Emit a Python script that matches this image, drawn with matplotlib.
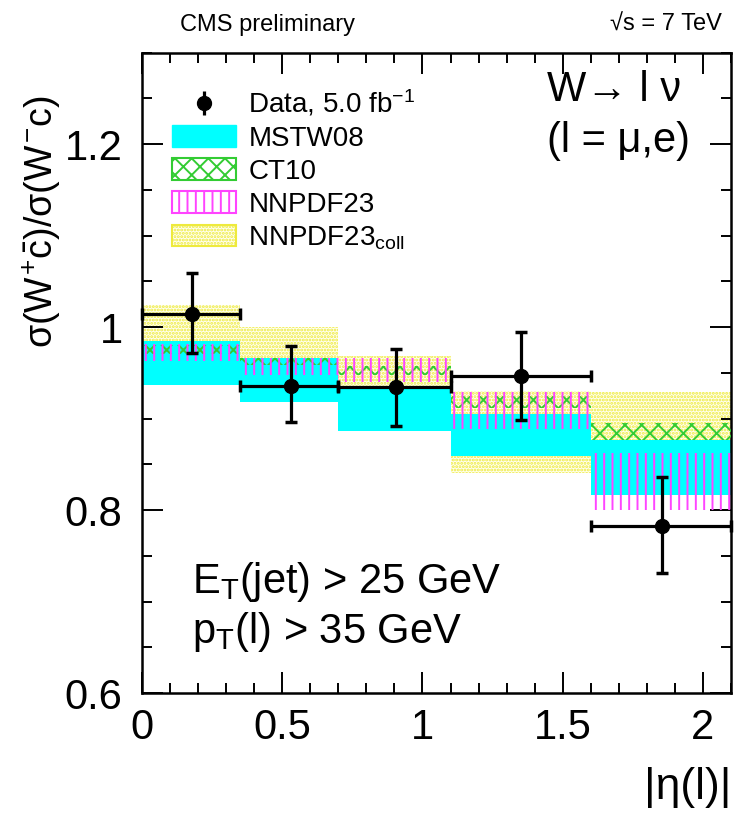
import numpy as np
import matplotlib
matplotlib.use("Agg")
import matplotlib.pyplot as plt
from matplotlib.patches import Patch
from matplotlib.lines import Line2D

plt.rcParams['font.family'] = ['Liberation Sans', 'DejaVu Sans']
plt.rcParams['mathtext.fontset'] = 'custom'
plt.rcParams['mathtext.rm'] = 'Liberation Sans'
plt.rcParams['mathtext.it'] = 'Liberation Sans'
plt.rcParams['mathtext.bf'] = 'Liberation Sans:bold'
plt.rcParams['hatch.linewidth'] = 1.4

# ---------------- data ----------------
bin_edges = [0.0, 0.35, 0.7, 1.1, 1.6, 2.1]
data_x = [0.18, 0.53, 0.905, 1.35, 1.855]
data_y = [1.014, 0.936, 0.934, 0.946, 0.782]
data_err_up = [0.045, 0.043, 0.042, 0.048, 0.054]
data_err_dn = [0.042, 0.040, 0.042, 0.048, 0.051]

mstw_lo = [0.937, 0.918, 0.886, 0.859, 0.816]
mstw_hi = [0.985, 0.966, 0.932, 0.905, 0.877]
ct10_lo = [0.970, 0.958, 0.948, 0.912, 0.877]
ct10_hi = [0.980, 0.966, 0.957, 0.925, 0.895]
nnpdf_lo = [0.963, 0.948, 0.940, 0.889, 0.800]
nnpdf_hi = [0.981, 0.966, 0.966, 0.929, 0.862]
coll_lo = [0.950, 0.930, 0.905, 0.840, 0.840]
coll_hi = [1.024, 1.000, 0.968, 0.930, 0.929]

YEL_FACE = '#fffff0'
YEL_EDGE = '#eeea3c'
CYAN = '#00ffff'
GREEN = '#33cc33'
MAGENTA = '#ff44ff'

# ---------------- figure ----------------
fig = plt.figure(figsize=(7.41, 8.15), dpi=100)
ax = fig.add_axes([142/741, 1-693/815, (731-142)/741, (693-52.5)/815])

def band(lo, hi, **kw):
    for i in range(len(lo)):
        ax.fill_between([bin_edges[i], bin_edges[i+1]], [lo[i]]*2, [hi[i]]*2, **kw)

band(coll_lo, coll_hi, facecolor=YEL_FACE, edgecolor=YEL_EDGE, hatch='.....', linewidth=0, zorder=1)
band(mstw_lo, mstw_hi, facecolor=CYAN, edgecolor='none', linewidth=0, zorder=2)
band(ct10_lo, ct10_hi, facecolor='none', edgecolor=GREEN, hatch='xx', linewidth=0, zorder=3)
band(nnpdf_lo, nnpdf_hi, facecolor='none', edgecolor=MAGENTA, hatch='||', linewidth=0, zorder=4)

xerr_lo = [data_x[i] - bin_edges[i] for i in range(5)]
xerr_hi = [bin_edges[i+1] - data_x[i] for i in range(5)]
ax.errorbar(data_x, data_y, xerr=[xerr_lo, xerr_hi], yerr=[data_err_dn, data_err_up],
            fmt='o', color='black', markersize=10, elinewidth=2.3, capsize=4,
            capthick=2.5, zorder=10, clip_on=False)

ax.set_xlim(0, 2.1)
ax.set_ylim(0.6, 1.3)
ax.set_xticks([0, 0.5, 1, 1.5, 2])
ax.set_xticklabels(['0', '0.5', '1', '1.5', '2'])
ax.set_xticks(np.arange(0, 2.11, 0.1), minor=True)
ax.set_yticks([0.6, 0.8, 1.0, 1.2])
ax.set_yticklabels(['0.6', '0.8', '1', '1.2'])
ax.set_yticks(np.arange(0.6, 1.301, 0.05), minor=True)
ax.tick_params(which='both', direction='in', top=True, right=True, width=1.4)
ax.tick_params(which='major', length=15, labelsize=30)
ax.tick_params(which='minor', length=7.5)
ax.tick_params(axis='x', pad=11)
ax.tick_params(axis='y', pad=14)
for s in ax.spines.values():
    s.set_linewidth(1.8)

# axis titles
fig.text(42/741, 1-95/815, r'$\sigma(W^{+}\bar{c})/\sigma(W^{-}c)$', rotation=90,
         ha='center', va='top', fontsize=27)
fig.text(731/741, 1-787/815, '|η(l)|', ha='right', va='center', fontsize=32)

# header
fig.text(180/741, 1-25/815, 'CMS preliminary', ha='left', va='center', fontsize=17)
fig.text(722/741, 1-25/815, '√s = 7 TeV', ha='right', va='center', fontsize=17)

# inside text
ax.text(547/741, 1-90/815, 'W→ l ν', transform=fig.transFigure, ha='left', va='center', fontsize=30)
ax.text(547/741, 1-141/815, '(l = μ,e)', transform=fig.transFigure, ha='left', va='center', fontsize=30)
ax.text(192/741, 1-582/815, r'E$_{\rm T}$(jet) > 25 GeV', transform=fig.transFigure,
        ha='left', va='center', fontsize=30)
ax.text(192/741, 1-632/815, r'p$_{\rm T}$(l) > 35 GeV', transform=fig.transFigure,
        ha='left', va='center', fontsize=30)

# legend
h_dot = Line2D([], [], color='black', marker='o', markersize=10, linestyle='none')
h_bar = Line2D([], [], color='black', marker='|', markersize=17, markeredgewidth=2.3, linestyle='none')
h_mstw = Patch(facecolor=CYAN, edgecolor=CYAN)
h_ct10 = Patch(facecolor='white', edgecolor=GREEN, hatch='xx', linewidth=1.5)
h_nnpdf = Patch(facecolor='white', edgecolor=MAGENTA, hatch='||', linewidth=1.5)
h_coll = Patch(facecolor=YEL_FACE, edgecolor=YEL_EDGE, hatch='.....', linewidth=1.5)
leg = ax.legend([(h_bar, h_dot), h_mstw, h_ct10, h_nnpdf, h_coll],
                [r'Data, 5.0 fb$^{-1}$', 'MSTW08', 'CT10', 'NNPDF23', r'NNPDF23$_{\rm coll}$'],
                loc='upper left', bbox_to_anchor=(172/741, 1-88/815), bbox_transform=fig.transFigure,
                fontsize=20, frameon=False, handlelength=2.3, handleheight=0.8,
                labelspacing=0.24, handletextpad=0.45, borderpad=0, borderaxespad=0)
leg.set_zorder(20)

fig.savefig('out.png', dpi=100)
